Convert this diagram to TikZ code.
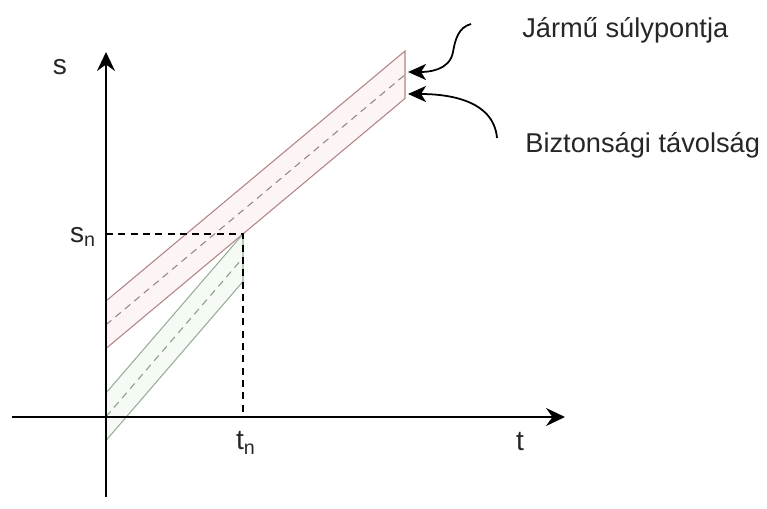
\documentclass[tikz,border=0pt]{standalone}
\usepackage{fontspec}
\setmainfont{Liberation Sans}
\usetikzlibrary{arrows.meta}

\definecolor{redline}{HTML}{B08484}
\definecolor{redfill}{HTML}{FDF5F5}
\definecolor{greenline}{HTML}{96AE96}
\definecolor{greenfill}{HTML}{F5FAF4}

\begin{document}
\begin{tikzpicture}
			[axis/.style={line width=1.1pt, -{Stealth[length=3.8mm, width=3.6mm, inset=1.3mm]}},
			 band/.style={line width=0.6pt},
			 mid/.style={line width=0.6pt, dashed, dash pattern=on 4pt off 3pt},
			 label/.style={font=\fontsize{16}{18}\selectfont, text=black!85, inner sep=0pt},
			 note/.style={font=\fontsize{15.5}{18}\selectfont, text=black!85, anchor=west, inner sep=0pt},
			 pointer/.style={line width=1pt, -{Stealth[length=3.6mm, width=3.2mm, inset=1mm]}}]
			
			\useasboundingbox (-2.12,-1.82) rectangle (13.22,8.34);
			
			% axes ends
			\coordinate (O) at (0,0);
			\coordinate (ybot) at (0,-1.6);
			\coordinate (ytop) at (0,7.3);
			\coordinate (xleft) at (-1.88,0);
			\coordinate (xright) at (9.18,0);
			
			% vehicle n: red band
			\coordinate (ra) at (0,2.32);
			\coordinate (rb) at (5.98,7.32);
			\coordinate (rc) at (5.98,6.37);
			\coordinate (rd) at (0,1.37);
			\coordinate (rm1) at (0,1.845);
			\coordinate (rm2) at (5.98,6.845);
			
			% vehicle n+1: green band
			\coordinate (ga) at (0,0.48);
			\coordinate (gb) at (2.74,3.66);
			\coordinate (gc) at (2.74,2.71);
			\coordinate (gd) at (0,-0.47);
			\coordinate (gm1) at (0,0.005);
			\coordinate (gm2) at (2.74,3.185);
			
			\coordinate (sn) at (0,3.66);
			\coordinate (tn) at (2.74,0);
			
			\fill[redfill] (ra) -- (rb) -- (rc) -- (rd) -- cycle;
			\fill[greenfill] (ga) -- (gb) -- (gc) -- (gd) -- cycle;
			
			\draw[band, redline] (ra) -- (rb) -- (rc) -- (rd);
			\draw[mid, redline!60!gray] (rm1) -- (rm2);
			\draw[band, greenline] (ga) -- (gb) -- (gc) -- (gd);
			\draw[mid, greenline!60!gray] (gm1) -- (gm2);
			
			\draw[line width=0.8pt, dashed, dash pattern=on 4pt off 3pt] (sn) -- (gb) -- (tn);
			
			\draw[axis] (ybot) -- (ytop);
			\draw[axis] (xleft) -- (xright);
			
			\node[label] (s) at (-0.92,7.0) {s};
			\node[label] (t) at (8.28,-0.5) {t};
			\node[label] (snl) at (-0.46,3.6) {s\textsubscript{n}};
			\node[label] (tnl) at (2.8,-0.52) {t\textsubscript{n}};
			
			\node[note] (cg) at (8.32,7.74) {Jármű súlypontja};
			\node[note] (sd) at (8.38,5.44) {Biztonsági távolság};
			
			\coordinate (cgs) at (7.3,7.86);
			\coordinate (cgm) at (6.94,7.3);
			\coordinate (cgt) at (6.04,6.9);
			\coordinate (sds) at (7.82,5.58);
			\coordinate (sdt) at (6.04,6.46);
			
			\draw[pointer] (cgs) to[out=195, in=80] (cgm) to[out=260, in=0] (cgt);
			\draw[pointer] (sds) to[out=95, in=0] (sdt);
		\end{tikzpicture}
\end{document}
